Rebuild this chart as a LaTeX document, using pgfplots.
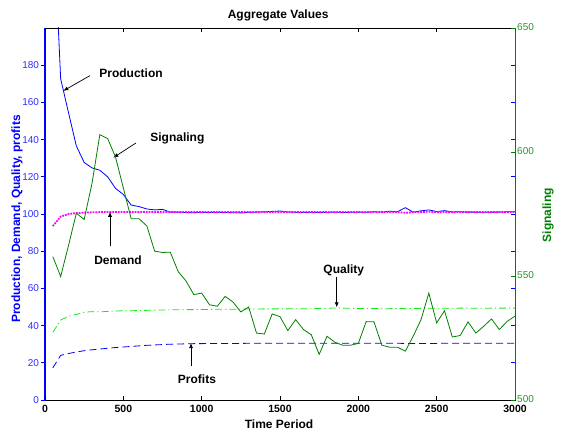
\documentclass[border=0pt]{standalone}
\usepackage{pgfplots}
\usepackage{pgfplotstable}
\pgfplotsset{compat=1.18}
\usepackage{fontspec}
\setmainfont{Liberation Sans}
\usetikzlibrary{arrows.meta}
\definecolor{pblue}{RGB}{0,0,255}
\definecolor{tblue}{RGB}{45,45,255}
\definecolor{sgreen}{RGB}{0,128,0}
\definecolor{tgreen}{RGB}{40,150,40}
\definecolor{qgreen}{RGB}{20,235,20}
\definecolor{dmag}{RGB}{255,0,255}
\pgfplotsset{/pgf/number format/assume math mode=true, /pgf/number format/1000 sep={}}

\pgfplotstableread{
t prod dem qual prof
50 265 93.5 36.4 17.3
100 172.7 98.6 43.0 24.0
150 154.5 100.0 45.0 25.0
200 136.6 100.5 46.0 25.8
250 127.7 100.7 47.2 26.5
300 124.8 100.9 47.5 27.0
350 123.5 101.0 47.4 27.4
400 120.0 101.1 47.6 27.8
450 113.8 101.1 47.8 28.2
500 110.5 101.1 48.0 28.5
550 104.8 101.1 48.0 28.8
600 104.0 101.0 48.1 29.1
650 102.7 101.1 48.2 29.4
700 102.2 101.0 48.3 29.6
750 102.5 101.0 48.4 29.8
800 101.0 101.1 48.5 30.0
850 101.0 101.0 48.5 30.1
900 100.8 101.0 48.6 30.2
950 100.7 101.0 48.6 30.3
1000 100.9 101.0 48.7 30.3
1050 100.8 101.0 48.7 30.4
1100 100.9 101.0 48.8 30.4
1150 100.8 101.0 48.8 30.4
1200 100.7 101.0 48.8 30.4
1250 100.6 101.0 48.9 30.4
1300 100.9 101.0 48.9 30.5
1350 101.0 101.0 48.9 30.5
1400 101.2 101.0 49.0 30.5
1450 101.4 101.0 49.0 30.5
1500 101.6 101.0 49.0 30.5
1550 101.1 101.0 49.0 30.5
1600 100.9 101.0 49.1 30.5
1650 100.8 101.0 49.1 30.5
1700 100.9 101.0 49.1 30.5
1750 100.8 101.0 49.2 30.5
1800 100.9 101.0 49.3 30.5
1850 101.0 101.0 49.5 30.5
1900 100.8 101.0 49.4 30.5
1950 100.9 101.0 49.3 30.5
2000 101.0 101.0 49.2 30.5
2050 100.9 101.0 49.2 30.5
2100 101.2 101.0 49.2 30.5
2150 101.0 101.0 49.1 30.5
2200 101.5 101.0 49.1 30.5
2250 101.2 101.0 49.2 30.5
2300 103.4 100.6 49.1 30.4
2350 101.0 101.0 49.2 30.4
2400 101.7 101.1 49.2 30.4
2450 102.2 101.2 49.3 30.4
2500 101.3 101.0 49.3 30.4
2550 101.8 101.0 49.3 30.5
2600 101.1 101.0 49.3 30.5
2650 101.2 101.0 49.4 30.5
2700 101.0 101.0 49.4 30.5
2750 101.0 101.0 49.3 30.5
2800 100.9 101.0 49.3 30.5
2850 101.0 101.0 49.4 30.5
2900 101.0 101.0 49.4 30.5
2950 101.2 101.0 49.4 30.5
3000 101.2 101.0 49.4 30.5
}\aggtable

\pgfplotstableread{
t sig
50 557.8
100 549.8
150 562.3
200 575.3
250 572.8
300 587.3
350 607.0
400 605.4
450 598.0
500 585.5
550 573.1
600 573.1
650 570.2
700 560.0
750 559.5
800 559.6
850 551.8
900 548.0
950 542.5
1000 543.1
1050 538.4
1100 537.8
1150 541.8
1200 539.5
1250 535.5
1300 537.5
1350 527.0
1400 526.6
1450 534.7
1500 533.6
1550 528.0
1600 532.4
1650 528.4
1700 526.3
1750 518.4
1800 525.7
1850 523.3
1900 522.1
1950 522.1
2000 522.8
2050 531.6
2100 531.5
2150 522.1
2200 521.3
2250 521.3
2300 519.7
2350 525.7
2400 532.4
2450 543.1
2500 531.1
2550 536.0
2600 525.4
2650 526.0
2700 531.5
2750 527.0
2800 529.7
2850 532.7
2900 528.4
2950 531.7
3000 533.8
}\sigtable

\begin{document}
\begin{tikzpicture}
\path[use as bounding box] (0pt,0pt) rectangle (568pt,434pt);

% Axis A: left y axis and the four series
\begin{axis}[
  at={(45pt,34pt)}, anchor=south west,
  scale only axis, width=470pt, height=372pt,
  xmin=0, xmax=3000, ymin=0, ymax=200,
  xtick=\empty,
  ytick={0,20,...,180},
  ytick pos=left,
  tick align=outside,
  tick style={pblue, line width=0.8pt},
  axis line style={black, line width=0.8pt},
  yticklabel style={font=\fontsize{10}{12}\selectfont, text=tblue, inner sep=1.5pt},
  clip mode=individual,
  title={Aggregate Values},
  every axis title/.style={at={(0.496,1)}, anchor=base, yshift=9pt, font=\bfseries\fontsize{12}{14}\selectfont},
  ylabel={Production, Demand, Quality, profits},
  every axis y label/.style={at={(-0.0596,0.4866)}, rotate=90, anchor=center, font=\bfseries\fontsize{12}{14}\selectfont, text=pblue},
]
\addplot[pblue, line width=0.8pt, no marks] table[x=t, y=prod] {\aggtable};
\addplot[dmag, line width=1.8pt, densely dotted, no marks] table[x=t, y=dem] {\aggtable};
\addplot[qgreen, line width=0.8pt, dash pattern=on 7pt off 3pt on 1.2pt off 3pt, no marks] table[x=t, y=qual] {\aggtable};
\addplot[pblue, line width=0.8pt, dash pattern=on 7pt off 4pt, no marks] table[x=t, y=prof] {\aggtable};

\draw[pblue, line width=2pt] (rel axis cs:0,0) -- (rel axis cs:0,1);

\begin{scope}[every node/.style={font=\bfseries\fontsize{12}{14}\selectfont, text=black}]
\node at (axis cs:549,175.8) {Production};
\draw[line width=0.7pt, -{Latex[length=5pt,width=4pt]}] (axis cs:287,174.4) -- (axis cs:117,166.2);
\node at (axis cs:845,140.6) {Signaling};
\draw[line width=0.7pt, -{Latex[length=5pt,width=4pt]}] (axis cs:581,138.2) -- (axis cs:436,130.3);
\node at (axis cs:466,75) {Demand};
\draw[line width=0.7pt, -{Latex[length=5pt,width=4pt]}] (axis cs:415,83) -- (axis cs:415,101.2);
\node at (axis cs:970,11.3) {Profits};
\draw[line width=0.7pt, -{Latex[length=5pt,width=4pt]}] (axis cs:932,18.1) -- (axis cs:932,30.6);
\node at (axis cs:1907,69.7) {Quality};
\draw[line width=0.7pt, -{Latex[length=5pt,width=4pt]}] (axis cs:1862,66) -- (axis cs:1862,49.8);
\end{scope}
\end{axis}

% Axis B: x axis ticks and labels
\begin{axis}[
  at={(45pt,34pt)}, anchor=south west,
  scale only axis, width=470pt, height=372pt,
  xmin=0, xmax=3000, ymin=0, ymax=200,
  axis x line*=box, axis y line=none,
  xtick={0,500,...,3000},
  tick align=inside,
  tick style={black, line width=0.8pt},
  axis line style={black, line width=0.8pt},
  xticklabel style={font=\bfseries\fontsize{10.5}{12}\selectfont, text=black, yshift=-1.5pt},
  xlabel={Time Period},
  every axis x label/.style={at={(0.498,0)}, anchor=base, yshift=-28pt, font=\bfseries\fontsize{12}{14}\selectfont},
]
\end{axis}

% Axis C: right y axis (Signaling)
\begin{axis}[
  at={(45pt,34pt)}, anchor=south west,
  scale only axis, width=470pt, height=372pt,
  xmin=0, xmax=3000, ymin=500, ymax=650,
  axis x line=none, axis y line*=right,
  ytick={500,550,600,650},
  extra y ticks={515,530,545,560,575,590,605,620,635},
  extra y tick labels={},
  extra y tick style={tick style={pblue, line width=0.8pt}},
  tick align=inside,
  tick style={sgreen, line width=0.8pt},
  axis line style={sgreen, line width=0.9pt},
  yticklabel style={font=\fontsize{10}{12}\selectfont, text=tgreen, inner sep=2pt, yshift=1pt},
  ylabel={Signaling},
  every axis y label/.style={at={(1.0702,0.497)}, rotate=90, anchor=center, font=\bfseries\fontsize{12}{14}\selectfont, text=sgreen},
]
\addplot[sgreen, line width=0.8pt, no marks] table[x=t, y=sig] {\sigtable};
\end{axis}
\end{tikzpicture}
\end{document}
